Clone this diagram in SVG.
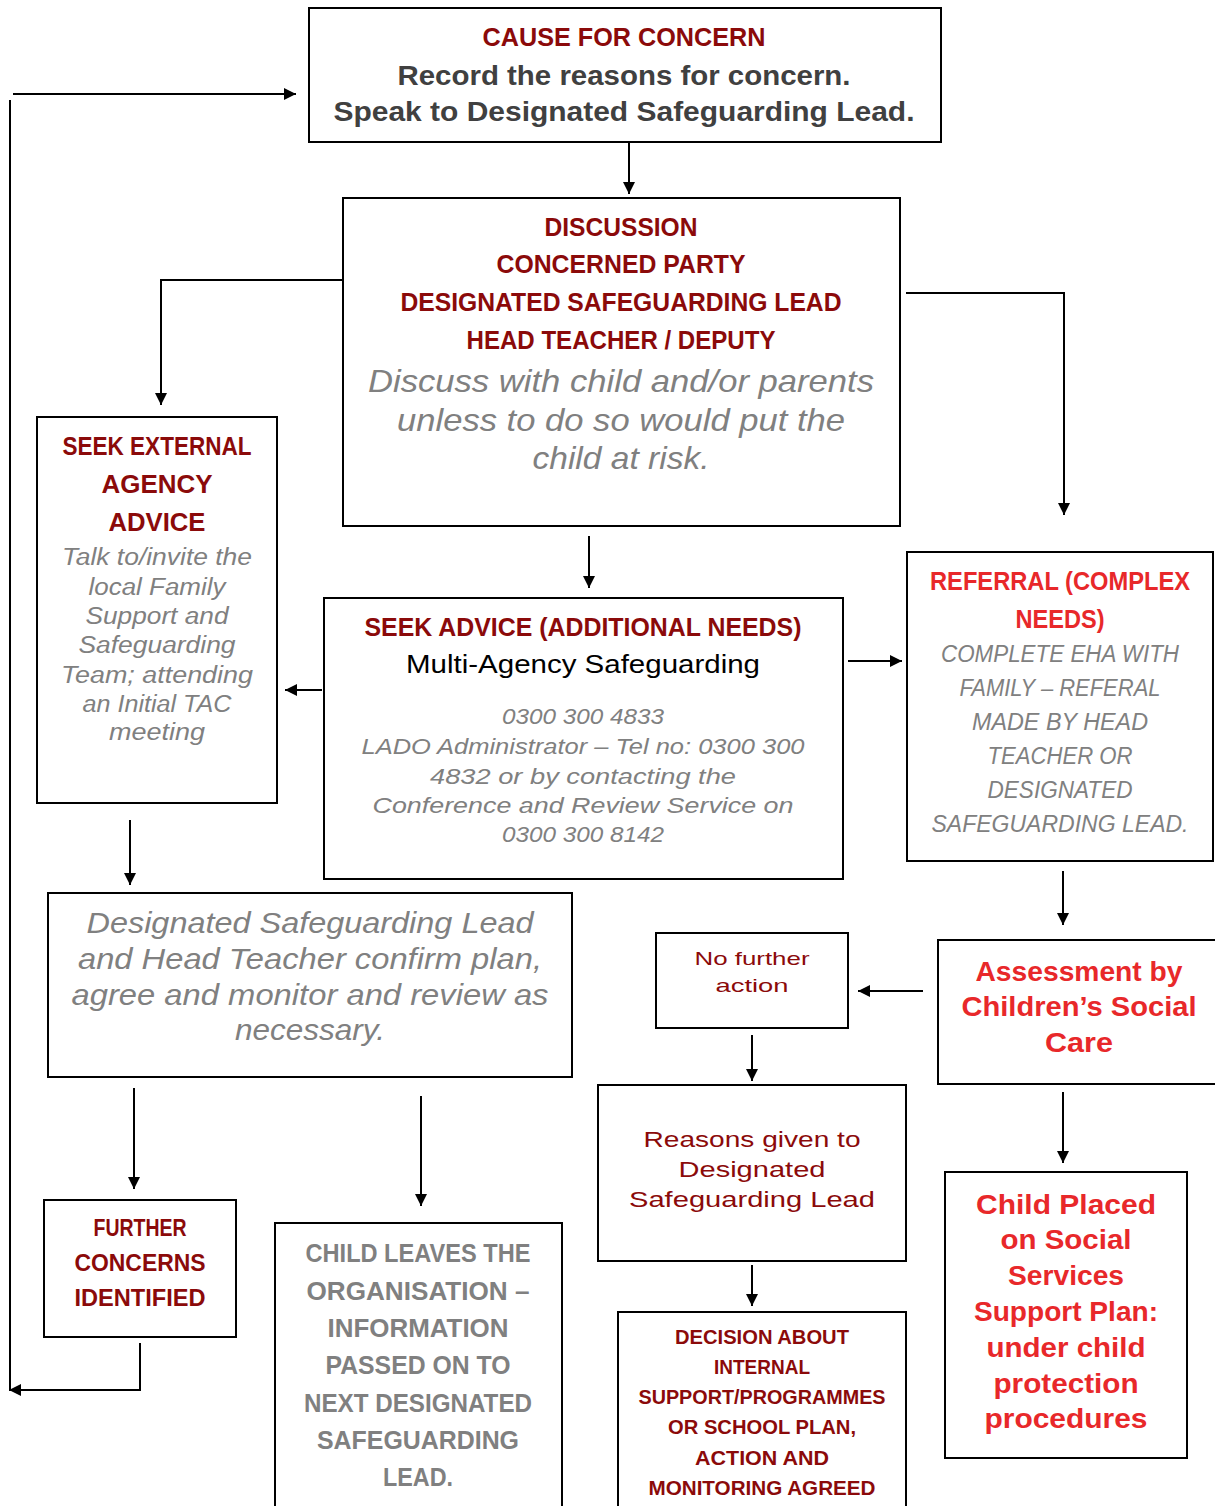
<svg xmlns="http://www.w3.org/2000/svg" width="1215" height="1506" viewBox="0 0 1215 1506">
<defs>
<marker id="ah" viewBox="0 0 10 10" refX="10" refY="5" markerWidth="14" markerHeight="12" markerUnits="userSpaceOnUse" orient="auto">
<path d="M0,0 L10,5 L0,10 z" fill="#000"/>
</marker>
<style>
.box{fill:#fff;stroke:#000;stroke-width:2}
.t{font-family:"Liberation Sans",Arial,sans-serif;text-anchor:middle}
.b{font-weight:bold}
.i{font-style:italic}
.dr{fill:#8b0a0a}
.rd{fill:#e8282a}
.gy{fill:#808080}
.dg{fill:#404040}
.bk{fill:#000}
.c{fill:none;stroke:#000;stroke-width:2}
.ca{fill:none;stroke:#000;stroke-width:2;marker-end:url(#ah)}
</style>
</defs>
<rect width="1215" height="1506" fill="#fff"/>

<g id="connectors">
<path class="ca" d="M629 142 V194"/>
<path class="c" d="M10 100 V1390"/>
<path class="ca" d="M13 94 H296"/>
<path class="ca" d="M140 1343 V1390 H9"/>
<path class="ca" d="M343 280 H161 V405"/>
<path class="ca" d="M906 293 H1064 V515"/>
<path class="ca" d="M589 536 V588"/>
<path class="ca" d="M322 690 H285"/>
<path class="ca" d="M848 661 H902"/>
<path class="ca" d="M1063 871 V925"/>
<path class="ca" d="M923 991 H858"/>
<path class="ca" d="M752 1035 V1081"/>
<path class="ca" d="M752 1265 V1306"/>
<path class="ca" d="M1063 1092 V1163"/>
<path class="ca" d="M130 820 V885"/>
<path class="ca" d="M134 1088 V1189"/>
<path class="ca" d="M421 1096 V1206"/>
</g>

<g id="cause">
<rect class="box" x="309" y="8" width="632" height="134"/>
<text class="t b dr" x="624" y="46" font-size="25" textLength="283" lengthAdjust="spacingAndGlyphs">CAUSE FOR CONCERN</text>
<text class="t b dg" x="624" y="85" font-size="28" textLength="453" lengthAdjust="spacingAndGlyphs">Record the reasons for concern.</text>
<text class="t b dg" x="624" y="121" font-size="28" textLength="581" lengthAdjust="spacingAndGlyphs">Speak to Designated Safeguarding Lead.</text>
</g>

<g id="discussion">
<rect class="box" x="343" y="198" width="557" height="328"/>
<text class="t b dr" x="621" y="236" font-size="25" textLength="153" lengthAdjust="spacingAndGlyphs">DISCUSSION</text>
<text class="t b dr" x="621" y="273" font-size="25" textLength="249" lengthAdjust="spacingAndGlyphs">CONCERNED PARTY</text>
<text class="t b dr" x="621" y="311" font-size="25" textLength="441" lengthAdjust="spacingAndGlyphs">DESIGNATED SAFEGUARDING LEAD</text>
<text class="t b dr" x="621" y="349" font-size="25" textLength="309" lengthAdjust="spacingAndGlyphs">HEAD TEACHER / DEPUTY</text>
<text class="t i gy" x="621" y="392" font-size="32" textLength="506" lengthAdjust="spacingAndGlyphs">Discuss with child and/or parents</text>
<text class="t i gy" x="621" y="431" font-size="32" textLength="448" lengthAdjust="spacingAndGlyphs">unless to do so would put the</text>
<text class="t i gy" x="621" y="469" font-size="32" textLength="177" lengthAdjust="spacingAndGlyphs">child at risk.</text>
</g>

<g id="external">
<rect class="box" x="37" y="417" width="240" height="386"/>
<text class="t b dr" x="157" y="455" font-size="26" textLength="189" lengthAdjust="spacingAndGlyphs">SEEK EXTERNAL</text>
<text class="t b dr" x="157" y="493" font-size="26" textLength="111" lengthAdjust="spacingAndGlyphs">AGENCY</text>
<text class="t b dr" x="157" y="531" font-size="26" textLength="97" lengthAdjust="spacingAndGlyphs">ADVICE</text>
<text class="t i gy" x="157" y="565" font-size="23" textLength="190" lengthAdjust="spacingAndGlyphs">Talk to/invite the</text>
<text class="t i gy" x="157" y="595" font-size="23" textLength="137" lengthAdjust="spacingAndGlyphs">local Family</text>
<text class="t i gy" x="157" y="624" font-size="23" textLength="143" lengthAdjust="spacingAndGlyphs">Support and</text>
<text class="t i gy" x="157" y="653" font-size="23" textLength="157" lengthAdjust="spacingAndGlyphs">Safeguarding</text>
<text class="t i gy" x="157" y="683" font-size="23" textLength="192" lengthAdjust="spacingAndGlyphs">Team; attending</text>
<text class="t i gy" x="157" y="712" font-size="23" textLength="149" lengthAdjust="spacingAndGlyphs">an Initial TAC</text>
<text class="t i gy" x="157" y="740" font-size="23" textLength="96" lengthAdjust="spacingAndGlyphs">meeting</text>
</g>

<g id="advice">
<rect class="box" x="324" y="598" width="519" height="281"/>
<text class="t b dr" x="583" y="636" font-size="26" textLength="437" lengthAdjust="spacingAndGlyphs">SEEK ADVICE (ADDITIONAL NEEDS)</text>
<text class="t bk" x="583" y="673" font-size="26" textLength="354" lengthAdjust="spacingAndGlyphs">Multi-Agency Safeguarding</text>
<text class="t i gy" x="583" y="724" font-size="22" textLength="162" lengthAdjust="spacingAndGlyphs">0300 300 4833</text>
<text class="t i gy" x="583" y="754" font-size="22" textLength="443" lengthAdjust="spacingAndGlyphs">LADO Administrator – Tel no: 0300 300</text>
<text class="t i gy" x="583" y="784" font-size="22" textLength="306" lengthAdjust="spacingAndGlyphs">4832 or by contacting the</text>
<text class="t i gy" x="583" y="813" font-size="22" textLength="421" lengthAdjust="spacingAndGlyphs">Conference and Review Service on</text>
<text class="t i gy" x="583" y="842" font-size="22" textLength="162" lengthAdjust="spacingAndGlyphs">0300 300 8142</text>
</g>

<g id="referral">
<rect class="box" x="907" y="552" width="306" height="309"/>
<text class="t b rd" x="1060" y="590" font-size="25" textLength="260" lengthAdjust="spacingAndGlyphs">REFERRAL (COMPLEX</text>
<text class="t b rd" x="1060" y="628" font-size="25" textLength="89" lengthAdjust="spacingAndGlyphs">NEEDS)</text>
<text class="t i gy" x="1060" y="662" font-size="23" textLength="238" lengthAdjust="spacingAndGlyphs">COMPLETE EHA WITH</text>
<text class="t i gy" x="1060" y="696" font-size="23" textLength="201" lengthAdjust="spacingAndGlyphs">FAMILY – REFERAL</text>
<text class="t i gy" x="1060" y="730" font-size="23" textLength="176" lengthAdjust="spacingAndGlyphs">MADE BY HEAD</text>
<text class="t i gy" x="1060" y="764" font-size="23" textLength="145" lengthAdjust="spacingAndGlyphs">TEACHER OR</text>
<text class="t i gy" x="1060" y="798" font-size="23" textLength="145" lengthAdjust="spacingAndGlyphs">DESIGNATED</text>
<text class="t i gy" x="1060" y="832" font-size="23" textLength="257" lengthAdjust="spacingAndGlyphs">SAFEGUARDING LEAD.</text>
</g>

<g id="assessment">
<rect class="box" x="938" y="940" width="280" height="144"/>
<text class="t b rd" x="1079" y="981" font-size="28" textLength="207" lengthAdjust="spacingAndGlyphs">Assessment by</text>
<text class="t b rd" x="1079" y="1016" font-size="28" textLength="235" lengthAdjust="spacingAndGlyphs">Children’s Social</text>
<text class="t b rd" x="1079" y="1052" font-size="28" textLength="68" lengthAdjust="spacingAndGlyphs">Care</text>
</g>

<g id="nofurther">
<rect class="box" x="656" y="933" width="192" height="95"/>
<text class="t dr" x="752" y="965" font-size="19" textLength="115" lengthAdjust="spacingAndGlyphs">No further</text>
<text class="t dr" x="752" y="992" font-size="19" textLength="73" lengthAdjust="spacingAndGlyphs">action</text>
</g>

<g id="reasons">
<rect class="box" x="598" y="1085" width="308" height="176"/>
<text class="t dr" x="752" y="1147" font-size="22" textLength="217" lengthAdjust="spacingAndGlyphs">Reasons given to</text>
<text class="t dr" x="752" y="1177" font-size="22" textLength="147" lengthAdjust="spacingAndGlyphs">Designated</text>
<text class="t dr" x="752" y="1207" font-size="22" textLength="246" lengthAdjust="spacingAndGlyphs">Safeguarding Lead</text>
</g>

<g id="decision">
<rect class="box" x="618" y="1312" width="288" height="200"/>
<text class="t b dr" x="762" y="1344" font-size="20" textLength="174" lengthAdjust="spacingAndGlyphs">DECISION ABOUT</text>
<text class="t b dr" x="762" y="1374" font-size="20" textLength="96" lengthAdjust="spacingAndGlyphs">INTERNAL</text>
<text class="t b dr" x="762" y="1404" font-size="20" textLength="247" lengthAdjust="spacingAndGlyphs">SUPPORT/PROGRAMMES</text>
<text class="t b dr" x="762" y="1434" font-size="20" textLength="188" lengthAdjust="spacingAndGlyphs">OR SCHOOL PLAN,</text>
<text class="t b dr" x="762" y="1465" font-size="20" textLength="134" lengthAdjust="spacingAndGlyphs">ACTION AND</text>
<text class="t b dr" x="762" y="1495" font-size="20" textLength="227" lengthAdjust="spacingAndGlyphs">MONITORING AGREED</text>
</g>

<g id="childplaced">
<rect class="box" x="945" y="1172" width="242" height="286"/>
<text class="t b rd" x="1066" y="1214" font-size="28" textLength="180" lengthAdjust="spacingAndGlyphs">Child Placed</text>
<text class="t b rd" x="1066" y="1249" font-size="28" textLength="131" lengthAdjust="spacingAndGlyphs">on Social</text>
<text class="t b rd" x="1066" y="1285" font-size="28" textLength="116" lengthAdjust="spacingAndGlyphs">Services</text>
<text class="t b rd" x="1066" y="1321" font-size="28" textLength="184" lengthAdjust="spacingAndGlyphs">Support Plan:</text>
<text class="t b rd" x="1066" y="1357" font-size="28" textLength="159" lengthAdjust="spacingAndGlyphs">under child</text>
<text class="t b rd" x="1066" y="1393" font-size="28" textLength="145" lengthAdjust="spacingAndGlyphs">protection</text>
<text class="t b rd" x="1066" y="1428" font-size="28" textLength="163" lengthAdjust="spacingAndGlyphs">procedures</text>
</g>

<g id="confirm">
<rect class="box" x="48" y="893" width="524" height="184"/>
<text class="t i gy" x="310" y="933" font-size="29" textLength="447" lengthAdjust="spacingAndGlyphs">Designated Safeguarding Lead</text>
<text class="t i gy" x="310" y="969" font-size="29" textLength="464" lengthAdjust="spacingAndGlyphs">and Head Teacher confirm plan,</text>
<text class="t i gy" x="310" y="1005" font-size="29" textLength="477" lengthAdjust="spacingAndGlyphs">agree and monitor and review as</text>
<text class="t i gy" x="310" y="1040" font-size="29" textLength="150" lengthAdjust="spacingAndGlyphs">necessary.</text>
</g>

<g id="further">
<rect class="box" x="44" y="1200" width="192" height="137"/>
<text class="t b dr" x="140" y="1236" font-size="24" textLength="93" lengthAdjust="spacingAndGlyphs">FURTHER</text>
<text class="t b dr" x="140" y="1271" font-size="24" textLength="131" lengthAdjust="spacingAndGlyphs">CONCERNS</text>
<text class="t b dr" x="140" y="1306" font-size="24" textLength="131" lengthAdjust="spacingAndGlyphs">IDENTIFIED</text>
</g>

<g id="leaves">
<rect class="box" x="275" y="1223" width="287" height="290"/>
<text class="t b gy" x="418" y="1262" font-size="25" textLength="225" lengthAdjust="spacingAndGlyphs">CHILD LEAVES THE</text>
<text class="t b gy" x="418" y="1300" font-size="25" textLength="223" lengthAdjust="spacingAndGlyphs">ORGANISATION –</text>
<text class="t b gy" x="418" y="1337" font-size="25" textLength="181" lengthAdjust="spacingAndGlyphs">INFORMATION</text>
<text class="t b gy" x="418" y="1374" font-size="25" textLength="185" lengthAdjust="spacingAndGlyphs">PASSED ON TO</text>
<text class="t b gy" x="418" y="1412" font-size="25" textLength="228" lengthAdjust="spacingAndGlyphs">NEXT DESIGNATED</text>
<text class="t b gy" x="418" y="1449" font-size="25" textLength="202" lengthAdjust="spacingAndGlyphs">SAFEGUARDING</text>
<text class="t b gy" x="418" y="1486" font-size="25" textLength="70" lengthAdjust="spacingAndGlyphs">LEAD.</text>
</g>
</svg>
